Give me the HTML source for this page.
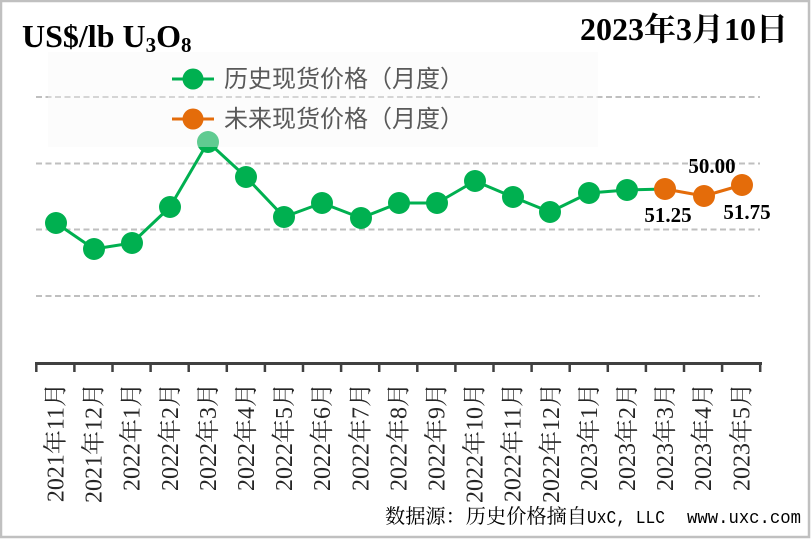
<!DOCTYPE html>
<html>
<head>
<meta charset="utf-8">
<style>
html,body{margin:0;padding:0;background:#fff;}
svg{display:block;}
.xl{font-family:"Liberation Serif","Noto Serif CJK SC",serif;font-size:24px;fill:#262626;}
.dl{font-family:"Liberation Serif",serif;font-size:21px;font-weight:bold;fill:#000;}
.lg{font-family:"Noto Sans CJK SC","WenQuanYi Zen Hei",sans-serif;font-size:24px;fill:#595959;}
.tt{font-family:"Liberation Serif",serif;font-weight:bold;fill:#000;}
.dt{font-family:"Liberation Serif","Noto Serif CJK SC",serif;font-size:32px;font-weight:bold;fill:#000;}
.fc{font-family:"Noto Serif CJK SC","Noto Sans CJK SC",serif;font-size:20px;fill:#000;}
.fm{font-family:"Liberation Mono",monospace;font-size:18px;fill:#000;}
</style>
</head>
<body>
<svg width="811" height="539" viewBox="0 0 811 539" xmlns="http://www.w3.org/2000/svg">
  <rect x="0" y="0" width="811" height="539" fill="#ffffff"/>
  <rect x="1" y="1" width="808" height="536" fill="none" stroke="#c0c0c0" stroke-width="2.5"/>

  <!-- gridlines -->
  <g stroke="#bfbfbf" stroke-width="2" stroke-dasharray="6,3.5">
    <line x1="36" y1="97" x2="760" y2="97"/>
    <line x1="36" y1="163.5" x2="760" y2="163.5"/>
    <line x1="36" y1="229.5" x2="760" y2="229.5"/>
    <line x1="36" y1="296" x2="760" y2="296"/>
  </g>

  <!-- axis -->
  <g stroke="#404040">
    <line x1="35" y1="363.5" x2="762" y2="363.5" stroke-width="3"/>
    <g stroke-width="2.5">
      <line x1="36.3" y1="363" x2="36.3" y2="372"/>
      <line x1="74.4" y1="363" x2="74.4" y2="372"/>
      <line x1="112.5" y1="363" x2="112.5" y2="372"/>
      <line x1="150.6" y1="363" x2="150.6" y2="372"/>
      <line x1="188.7" y1="363" x2="188.7" y2="372"/>
      <line x1="226.8" y1="363" x2="226.8" y2="372"/>
      <line x1="264.9" y1="363" x2="264.9" y2="372"/>
      <line x1="303" y1="363" x2="303" y2="372"/>
      <line x1="341.1" y1="363" x2="341.1" y2="372"/>
      <line x1="379.2" y1="363" x2="379.2" y2="372"/>
      <line x1="417.3" y1="363" x2="417.3" y2="372"/>
      <line x1="455.4" y1="363" x2="455.4" y2="372"/>
      <line x1="493.5" y1="363" x2="493.5" y2="372"/>
      <line x1="531.6" y1="363" x2="531.6" y2="372"/>
      <line x1="569.7" y1="363" x2="569.7" y2="372"/>
      <line x1="607.8" y1="363" x2="607.8" y2="372"/>
      <line x1="645.9" y1="363" x2="645.9" y2="372"/>
      <line x1="684" y1="363" x2="684" y2="372"/>
      <line x1="722.1" y1="363" x2="722.1" y2="372"/>
      <line x1="760.2" y1="363" x2="760.2" y2="372"/>
    </g>
  </g>

  <!-- x labels -->
  <g class="xl" text-anchor="end">
    <text transform="translate(63.5,383) rotate(-90)">2021年11月</text>
    <text transform="translate(101.6,383) rotate(-90)">2021年12月</text>
    <text transform="translate(139.7,383) rotate(-90)">2022年1月</text>
    <text transform="translate(177.8,383) rotate(-90)">2022年2月</text>
    <text transform="translate(215.9,383) rotate(-90)">2022年3月</text>
    <text transform="translate(254,383) rotate(-90)">2022年4月</text>
    <text transform="translate(292.1,383) rotate(-90)">2022年5月</text>
    <text transform="translate(330.2,383) rotate(-90)">2022年6月</text>
    <text transform="translate(368.3,383) rotate(-90)">2022年7月</text>
    <text transform="translate(406.4,383) rotate(-90)">2022年8月</text>
    <text transform="translate(444.5,383) rotate(-90)">2022年9月</text>
    <text transform="translate(482.6,383) rotate(-90)">2022年10月</text>
    <text transform="translate(520.7,383) rotate(-90)">2022年11月</text>
    <text transform="translate(558.8,383) rotate(-90)">2022年12月</text>
    <text transform="translate(596.9,383) rotate(-90)">2023年1月</text>
    <text transform="translate(635,383) rotate(-90)">2023年2月</text>
    <text transform="translate(673.1,383) rotate(-90)">2023年3月</text>
    <text transform="translate(711.2,383) rotate(-90)">2023年4月</text>
    <text transform="translate(749.3,383) rotate(-90)">2023年5月</text>
  </g>

  <!-- green series -->
  <polyline fill="none" stroke="#00b050" stroke-width="3" stroke-linejoin="round"
    points="56,223 94,249 132,243 170,207 208,142 246,177 284,217 322,203 361,218 399,203 437,203 475,181 513,197 550,212 589,193 627,190 665,189"/>
  <g fill="#00b050">
    <circle cx="56" cy="223" r="11"/>
    <circle cx="94" cy="249" r="11"/>
    <circle cx="132" cy="243" r="11"/>
    <circle cx="170" cy="207" r="11"/>
    <circle cx="208" cy="142" r="11"/>
    <circle cx="246" cy="177" r="11"/>
    <circle cx="284" cy="217" r="11"/>
    <circle cx="322" cy="203" r="11"/>
    <circle cx="361" cy="218" r="11"/>
    <circle cx="399" cy="203" r="11"/>
    <circle cx="437" cy="203" r="11"/>
    <circle cx="475" cy="181" r="11"/>
    <circle cx="513" cy="197" r="11"/>
    <circle cx="550" cy="212" r="11"/>
    <circle cx="589" cy="193" r="11"/>
    <circle cx="627" cy="190" r="11"/>
  </g>

  <!-- orange series -->
  <polyline fill="none" stroke="#e46c0a" stroke-width="3" stroke-linejoin="round"
    points="665,189 704,196 742,185"/>
  <g fill="#e46c0a">
    <circle cx="665" cy="189" r="11"/>
    <circle cx="704" cy="196" r="11"/>
    <circle cx="742" cy="185" r="11"/>
  </g>

  <!-- data labels -->
  <g class="dl" text-anchor="middle">
    <text x="712" y="173">50.00</text>
    <text x="668" y="222">51.25</text>
    <text x="747" y="219">51.75</text>
  </g>

  <!-- legend box (semi-transparent) -->
  <rect x="48" y="52" width="550" height="95" fill="rgb(246,246,246)" fill-opacity="0.39"/>
  <line x1="172" y1="79" x2="214" y2="79" stroke="#00b050" stroke-width="3"/>
  <circle cx="193" cy="79" r="10.5" fill="#00b050"/>
  <line x1="172" y1="119" x2="214" y2="119" stroke="#e46c0a" stroke-width="3"/>
  <circle cx="193" cy="119" r="10.5" fill="#e46c0a"/>
  <g class="lg">
    <text x="224" y="87">历史现货价格（月度）</text>
    <text x="224" y="127">未来现货价格（月度）</text>
  </g>

  <!-- title -->
  <text x="22" y="47" class="tt" font-size="32">US$/lb U<tspan font-size="21" dy="5">3</tspan><tspan font-size="32" dy="-5">O</tspan><tspan font-size="21" dy="5">8</tspan></text>

  <!-- date -->
  <text x="788" y="40" text-anchor="end" class="dt">2023年3月10日</text>

  <!-- footer -->
  <text x="385" y="523" class="fc" textLength="202" lengthAdjust="spacingAndGlyphs">数据源：历史价格摘自</text>
  <text x="587" y="523" class="fm" textLength="78" lengthAdjust="spacingAndGlyphs">UxC, LLC</text>
  <text x="687" y="523" class="fm" textLength="114" lengthAdjust="spacingAndGlyphs">www.uxc.com</text>
</svg>
</body>
</html>
